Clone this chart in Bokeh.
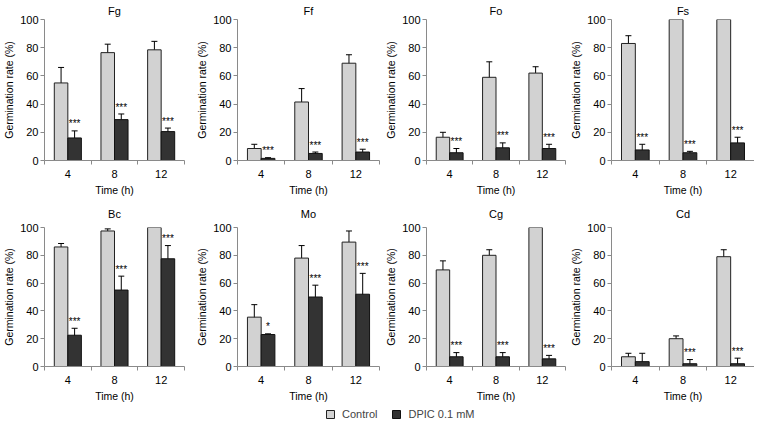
from bokeh.plotting import figure
from bokeh.models import Range1d, FixedTicker, ColumnDataSource, Whisker, TeeHead, Legend, LegendItem
from bokeh.layouts import column, row
from bokeh.embed import file_html
from bokeh.resources import INLINE
from bokeh.core.properties import value

# ---------------- data ----------------
times = ["4", "8", "12"]

fg_ctrl = [55, 76.5, 78.5]
fg_ctrl_err = [11, 6, 6]
fg_dpic = [16, 29, 20.5]
fg_dpic_err = [5, 4, 2.5]
fg_sig = ["***", "***", "***"]

ff_ctrl = [8.5, 41.5, 69]
ff_ctrl_err = [3, 9.5, 6]
ff_dpic = [1.5, 5, 6]
ff_dpic_err = [0.5, 1, 2]
ff_sig = ["***", "***", "***"]

fo_ctrl = [16.5, 59, 62]
fo_ctrl_err = [3.5, 11, 4.5]
fo_dpic = [5.5, 9, 8.5]
fo_dpic_err = [3, 3.5, 3]
fo_sig = ["***", "***", "***"]

fs_ctrl = [83, 100, 100]
fs_ctrl_err = [5.5, 0, 0]
fs_dpic = [7.5, 5.5, 12.5]
fs_dpic_err = [4, 1, 4]
fs_sig = ["***", "***", "***"]

bc_ctrl = [86, 97.5, 100]
bc_ctrl_err = [2.5, 1.5, 0]
bc_dpic = [22.5, 55, 77.5]
bc_dpic_err = [5, 10, 9.5]
bc_sig = ["***", "***", "***"]

mo_ctrl = [35.5, 78, 89.5]
mo_ctrl_err = [9, 9, 8]
mo_dpic = [23, 50, 52]
mo_dpic_err = [0.5, 8.5, 15]
mo_sig = ["*", "***", "***"]

cg_ctrl = [69.5, 80, 100]
cg_ctrl_err = [6.5, 4, 0]
cg_dpic = [7, 7, 5.5]
cg_dpic_err = [3, 3, 2.5]
cg_sig = ["***", "***", "***"]

cd_ctrl = [7, 20, 79]
cd_ctrl_err = [2.5, 2, 5]
cd_dpic = [3.5, 2, 2]
cd_dpic_err = [6, 3, 4]
cd_sig = ["", "***", "***"]

y_ticks = [0, 20, 40, 60, 80, 100]
legend_labels = ["Control", "DPIC 0.1 mM"]

# ---------------- style ----------------
FONT = "Liberation Sans"
CTRL_COLOR = "#d2d2d2"
DPIC_COLOR = "#333333"
AXIS_COLOR = "#8a8a8a"
BW = 0.29


def make_panel(name, ctrl, ctrl_err, dpic, dpic_err, sig, width, height,
               border_right, title_standoff):
    n = len(times)
    pos = list(range(1, n + 1))
    p = figure(width=width, height=height, x_range=Range1d(0.5, n + 0.5),
               y_range=Range1d(0, 100), output_backend="svg",
               toolbar_location=None, title=name,
               min_border_left=0, min_border_right=border_right,
               min_border_top=0, min_border_bottom=0)
    p.outline_line_color = None
    p.grid.visible = False
    p.background_fill_color = "white"
    p.border_fill_color = "white"
    p.title.align = "center"
    p.title.text_font = FONT
    p.title.text_font_style = "normal"
    p.title.text_font_size = "11px"
    p.title.text_color = "black"
    p.title.standoff = title_standoff

    xc = [x - BW / 2 for x in pos]
    xd = [x + BW / 2 for x in pos]
    p.vbar(x=xc, top=ctrl, width=BW, fill_color=CTRL_COLOR,
           line_color="#222222", line_width=1)
    p.vbar(x=xd, top=dpic, width=BW, fill_color=DPIC_COLOR,
           line_color="#111111", line_width=1)

    ex, lo, up = [], [], []
    for x, m, e in list(zip(xc, ctrl, ctrl_err)) + list(zip(xd, dpic, dpic_err)):
        if e > 0:
            ex.append(x)
            lo.append(max(m - e, 0))
            up.append(m + e)
    src = ColumnDataSource(dict(x=ex, lower=lo, upper=up))
    w = Whisker(source=src, base="x", lower="lower", upper="upper",
                line_color="black", line_width=1,
                upper_head=TeeHead(size=6, line_color="black", line_width=1),
                lower_head=TeeHead(size=6, line_color="black", line_width=1))
    p.add_layout(w)

    sx, sy, st = [], [], []
    for x, m, e, s in zip(xd, dpic, dpic_err, sig):
        if s:
            sx.append(x)
            sy.append(m + e + 1.0)
            st.append(s)
    p.text(x=sx, y=sy, text=st, text_align="center", text_baseline="bottom",
           text_font=value(FONT), text_font_size="10px", text_color="#000000")

    for ax in (p.xaxis, p.yaxis):
        ax.axis_line_color = AXIS_COLOR
        ax.major_tick_line_color = AXIS_COLOR
        ax.minor_tick_line_color = AXIS_COLOR
        ax.major_label_text_font = FONT
        ax.major_label_text_font_size = "11px"
        ax.major_label_text_color = "black"
        ax.axis_label_text_font = FONT
        ax.axis_label_text_font_size = "10.5px"
        ax.axis_label_text_font_style = "normal"
        ax.axis_label_text_color = "black"

    p.yaxis.ticker = FixedTicker(ticks=y_ticks)
    p.yaxis.major_tick_out = 4
    p.yaxis.major_tick_in = 0
    p.yaxis.minor_tick_line_color = None
    p.yaxis.major_label_standoff = 2
    p.yaxis.axis_label = "Germination rate (%)"
    p.yaxis.axis_label_standoff = 2

    p.xaxis.ticker = FixedTicker(ticks=pos,
                                 minor_ticks=[x + 0.5 for x in range(0, n + 1)])
    p.xaxis.major_tick_out = 0
    p.xaxis.major_tick_in = 0
    p.xaxis.minor_tick_out = 4
    p.xaxis.minor_tick_in = 0
    p.xaxis.major_label_overrides = {x: t for x, t in zip(pos, times)}
    p.xaxis.major_label_standoff = 5
    p.xaxis.axis_label = "Time (h)"
    p.xaxis.axis_label_standoff = 3
    return p


widths = [193, 189, 185, 187]
rights = [9, 3, 2, 0]

top_data = [("Fg", fg_ctrl, fg_ctrl_err, fg_dpic, fg_dpic_err, fg_sig),
            ("Ff", ff_ctrl, ff_ctrl_err, ff_dpic, ff_dpic_err, ff_sig),
            ("Fo", fo_ctrl, fo_ctrl_err, fo_dpic, fo_dpic_err, fo_sig),
            ("Fs", fs_ctrl, fs_ctrl_err, fs_dpic, fs_dpic_err, fs_sig)]
bot_data = [("Bc", bc_ctrl, bc_ctrl_err, bc_dpic, bc_dpic_err, bc_sig),
            ("Mo", mo_ctrl, mo_ctrl_err, mo_dpic, mo_dpic_err, mo_sig),
            ("Cg", cg_ctrl, cg_ctrl_err, cg_dpic, cg_dpic_err, cg_sig),
            ("Cd", cd_ctrl, cd_ctrl_err, cd_dpic, cd_dpic_err, cd_sig)]

top_row = row([make_panel(*d, width=w, height=198, border_right=r, title_standoff=5)
               for d, w, r in zip(top_data, widths, rights)])
bot_row = row([make_panel(*d, width=w, height=206, border_right=r, title_standoff=15)
               for d, w, r in zip(bot_data, widths, rights)])

# legend strip
lp = figure(width=754, height=16, x_range=Range1d(0, 1), y_range=Range1d(0, 1),
            output_backend="svg", toolbar_location=None,
            x_axis_location=None, y_axis_location=None,
            min_border_left=0, min_border_right=0, min_border_top=0, min_border_bottom=0)
lp.grid.visible = False
lp.outline_line_color = None
lp.background_fill_alpha = 0
lp.border_fill_alpha = 0
r1 = lp.vbar(x=[5], top=[5], width=0.1, fill_color=CTRL_COLOR, line_color="#222222")
r2 = lp.vbar(x=[5], top=[5], width=0.1, fill_color=DPIC_COLOR, line_color="#111111")
legend = Legend(items=[LegendItem(label=legend_labels[0], renderers=[r1]),
                       LegendItem(label=legend_labels[1], renderers=[r2])],
                orientation="horizontal", location=(325, 0),
                border_line_color=None, background_fill_alpha=0,
                glyph_width=10, glyph_height=10, spacing=14, padding=0, margin=0,
                label_text_font=FONT, label_text_font_size="11px",
                label_height=12, label_standoff=7)
lp.add_layout(legend, "center")

layout = column(top_row, bot_row, lp)
open("out.html", "w").write(file_html(layout, INLINE))
